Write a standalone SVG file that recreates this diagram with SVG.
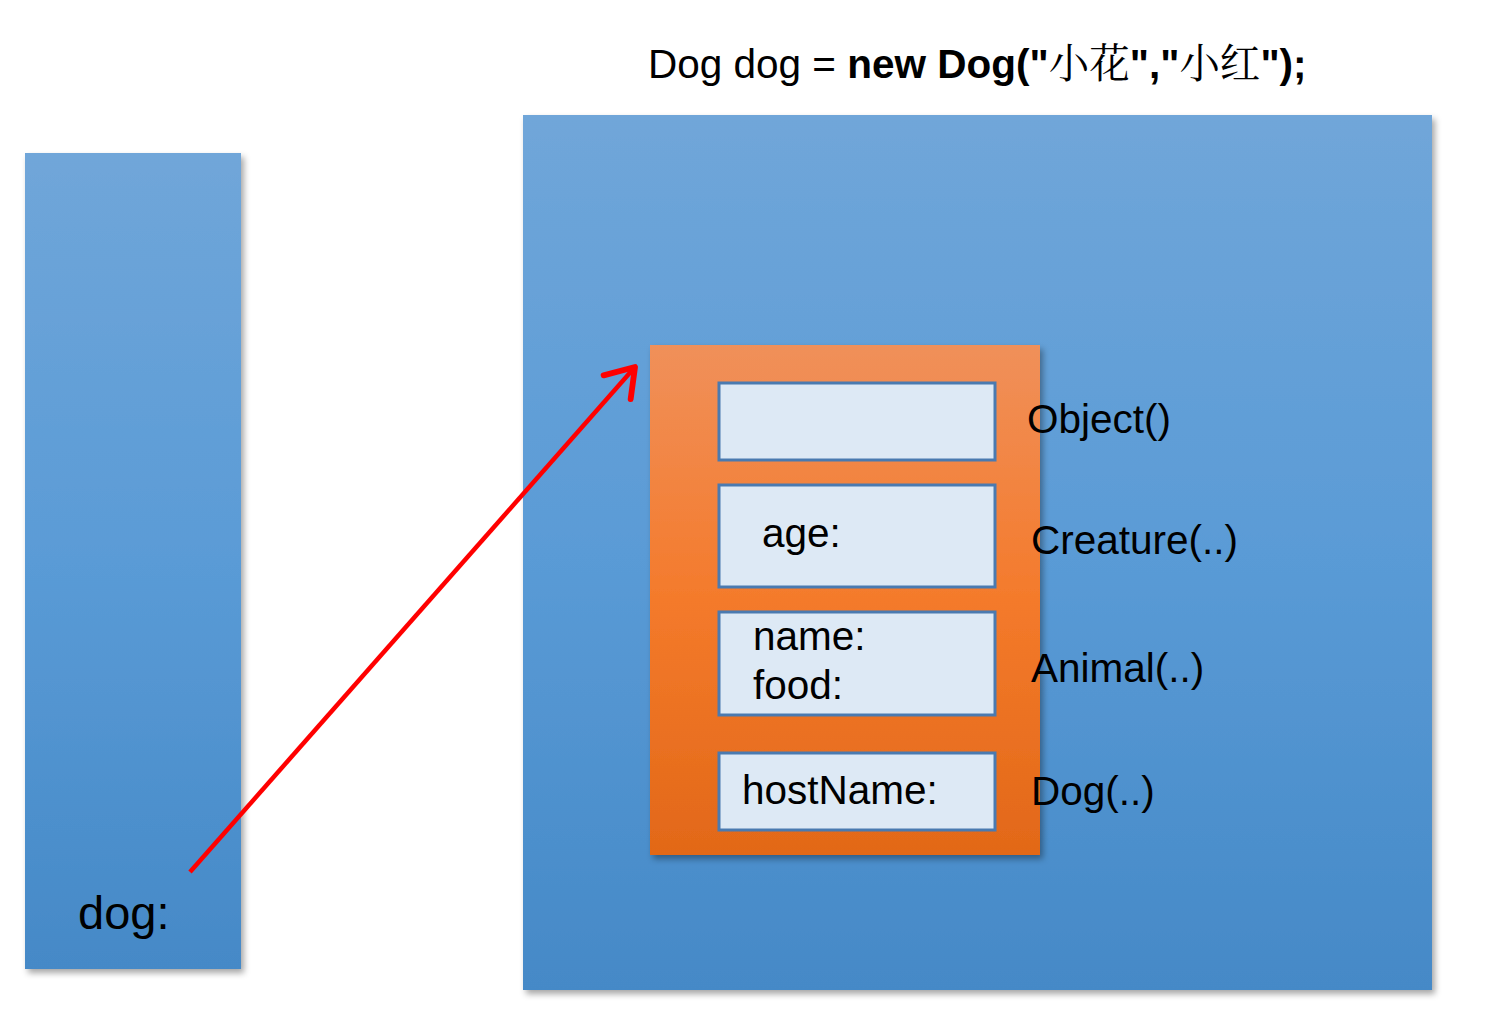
<svg xmlns="http://www.w3.org/2000/svg" width="1500" height="1011" viewBox="0 0 1500 1011">
<defs>
<linearGradient id="blue" x1="0" y1="0" x2="0" y2="1">
<stop offset="0" stop-color="#70a6d9"/>
<stop offset="0.5" stop-color="#5a9bd6"/>
<stop offset="1" stop-color="#4589c7"/>
</linearGradient>
<linearGradient id="orange" x1="0" y1="0" x2="0" y2="1">
<stop offset="0" stop-color="#f0905a"/>
<stop offset="0.5" stop-color="#f47a2b"/>
<stop offset="1" stop-color="#e26818"/>
</linearGradient>
<filter id="shadow" x="-10%" y="-10%" width="125%" height="125%">
<feDropShadow dx="3" dy="4" stdDeviation="3" flood-color="#000" flood-opacity="0.35"/>
</filter>
<marker id="arrow" markerWidth="10" markerHeight="10" refX="7.5" refY="5" orient="auto" markerUnits="strokeWidth">
<path d="M1.5,1 L7.5,5 L1.5,9" fill="none" stroke="#ff0000" stroke-width="1.3" stroke-linecap="round" stroke-linejoin="round"/>
</marker>
</defs>
<style>
text { font-family: "Liberation Sans", Arial, "Noto Sans CJK SC", sans-serif; fill: #000; }
.lbl { font-size: 40.5px; }
.field { fill: #dde9f5; stroke: #4a7ab0; stroke-width: 3; }
</style>
<text x="648" y="78" font-size="40.5">Dog dog = <tspan font-weight="bold">new Dog("</tspan><tspan font-family="'Noto Serif CJK SC','Noto Sans CJK SC',serif">小花</tspan><tspan font-weight="bold">","</tspan><tspan font-family="'Noto Serif CJK SC','Noto Sans CJK SC',serif">小红</tspan><tspan font-weight="bold">");</tspan></text>
<g id="stack">
<rect x="25" y="153" width="216" height="816" fill="url(#blue)" filter="url(#shadow)"/>
<text x="78" y="929" font-size="47">dog:</text>
</g>
<g id="heap">
<rect x="523" y="115" width="909" height="875" fill="url(#blue)" filter="url(#shadow)"/>
</g>
<g id="dogObject">
<rect x="650" y="345" width="390" height="510" fill="url(#orange)" filter="url(#shadow)"/>
</g>
<g id="objectPart">
<rect class="field" x="719" y="383" width="276" height="77"/>
<text class="lbl" x="1027" y="433">Object()</text>
</g>
<g id="creaturePart">
<rect class="field" x="719" y="485" width="276" height="102"/>
<text class="lbl" x="762" y="547">age:</text>
<text class="lbl" x="1031" y="554">Creature(..)</text>
</g>
<g id="animalPart">
<rect class="field" x="719" y="612" width="276" height="103"/>
<text class="lbl" x="753" y="650">name:</text>
<text class="lbl" x="753" y="699">food:</text>
<text class="lbl" x="1031" y="682">Animal(..)</text>
</g>
<g id="dogPart">
<rect class="field" x="719" y="753" width="276" height="77"/>
<text class="lbl" x="742" y="804">hostName:</text>
<text class="lbl" x="1031" y="805">Dog(..)</text>
</g>
<g id="connectors">
<line x1="190" y1="872" x2="635" y2="367" stroke="#ff0000" stroke-width="4.5" marker-end="url(#arrow)"/>
</g>
</svg>
